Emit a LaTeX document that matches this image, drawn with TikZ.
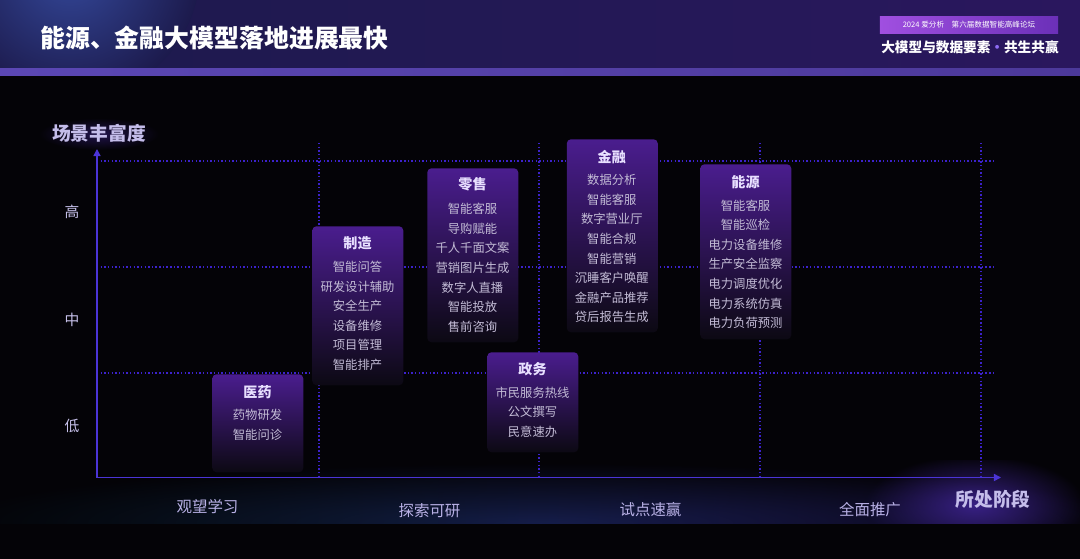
\documentclass[tikz,border=0pt]{standalone}
\usepackage{fontspec}
\setmainfont{Noto Sans CJK SC}
\usetikzlibrary{arrows.meta, fadings}

\definecolor{bgdark}{HTML}{040307}
\definecolor{headleft}{HTML}{1C1A4C}
\definecolor{headright}{HTML}{2A175E}
\definecolor{headglow}{HTML}{34489A}
\definecolor{headline}{HTML}{5B47B4}
\definecolor{axisblue}{HTML}{4B34D6}
\definecolor{griddot}{HTML}{3C22CC}
\definecolor{paneltop}{HTML}{4A1D8E}
\definecolor{panelmid}{HTML}{1F1238}
\definecolor{panelbot}{HTML}{0C0913}
\definecolor{itemgrey}{HTML}{C3BCD6}
\definecolor{titlelav}{HTML}{E8E0FF}
\definecolor{labellav}{HTML}{B9B1E6}
\definecolor{tagleft}{HTML}{A04FE0}
\definecolor{tagright}{HTML}{6B30B8}
\definecolor{dotpurple}{HTML}{8F6CF5}
\definecolor{bandleft}{HTML}{06202C}
\definecolor{bandmid}{HTML}{08204A}
\definecolor{bandright}{HTML}{241A66}
\definecolor{glowpurple}{HTML}{3D2390}

\tikzfading[name=softglow, inner color=transparent!0, outer color=transparent!100]

\begin{document}
\begin{tikzpicture}[
    x=0.025cm, y=-0.025cm,
    panel/.style = {
        rounded corners=3pt,
        top color=paneltop,
        middle color=panelmid,
        bottom color=panelbot,
        minimum width=2.275cm,
        inner sep=0pt,
        anchor=north west
    },
    paneltitle/.style = {
        font=\fontsize{10}{12}\selectfont\bfseries,
        text=titlelav,
        inner sep=0pt
    },
    items/.style = {
        align=center,
        font=\fontsize{8.75}{13.95}\selectfont,
        text=itemgrey,
        inner sep=0pt
    },
    stage/.style = {
        font=\fontsize{11}{13}\selectfont,
        text=labellav,
        inner sep=0pt
    },
    level/.style = {
        font=\fontsize{10.5}{12}\selectfont,
        text=labellav!80!white,
        inner sep=0pt
    },
    axistitle/.style = {
        font=\fontsize{13.3}{15}\selectfont\bfseries,
        text=labellav!85!white,
        inner sep=0pt
    },
    axis/.style = {draw=axisblue, line width=1.1pt, -{Triangle[length=5pt, width=5pt]}},
    gridline/.style = {draw=griddot, line width=0.9pt, dash pattern=on 1pt off 1.6pt}
]

%% -- Fondo y cabecera --------------------------------------------------------

\fill[bgdark] (0,0) rectangle (1080,559);

\begin{scope}
    \clip (0,0) rectangle (1080,68);
    \fill[left color=headleft, right color=headright] (0,0) rectangle (1080,68);
    \shade[inner color=headglow, outer color=headleft] (70,-30) circle[radius=130];
\end{scope}
\fill[left color=headline, right color=headline!70!headright] (0,68) rectangle (1080,75);

\node[anchor=west, font=\fontsize{17.7}{20}\selectfont\bfseries, text=white, inner sep=0pt]
    (title) at (40,38.5) {能源、金融大模型落地进展最快};

\node[left color=tagleft, right color=tagright, minimum width=4.45cm, minimum height=0.4cm,
      inner sep=0pt, font=\fontsize{5.4}{6}\selectfont, text=white]
    (tag) at (969,25) {2024 爱分析\quad 第六届数据智能高峰论坛};
\node[font=\fontsize{9.7}{12}\selectfont\bfseries, text=white, inner sep=0pt]
    (slogan) at (970,47) {大模型与数据要素{\color{dotpurple}•}共生共赢};

%% -- Franja inferior ---------------------------------------------------------

\begin{scope}
    \clip (0,460) rectangle (1080,523);
    \shade[left color=bandleft, middle color=bandmid, right color=bandright, path fading=softglow]
        (540,523) ellipse [x radius=600, y radius=60];
    \fill[glowpurple, path fading=softglow, opacity=0.9] (975,505) ellipse [x radius=110, y radius=50];
\end{scope}

%% -- Rejilla y ejes ----------------------------------------------------------

\foreach \yy in {161, 267, 373}
    \draw[gridline] (97,\yy) -- (993,\yy);
\foreach \xx in {319, 539, 760, 981}
    \draw[gridline] (\xx,143) -- (\xx,477);

\coordinate (origin) at (97,477.5);
\coordinate (ytip)   at (97,149);
\coordinate (xtip)   at (1001,477.5);

\draw[axis] (origin) -- (ytip);
\draw[axis] (origin) -- (xtip);

\fill[glowpurple, path fading=softglow, opacity=0.5] (99,134) ellipse [x radius=60, y radius=16];
\node[axistitle] (ylabel) at (99,133) {场景丰富度};
\node[axistitle] (xlabel) at (993,499) {所处阶段};

\node[level] (high) at (72,212) {高};
\node[level] (mid)  at (72,320) {中};
\node[level] (low)  at (72,426) {低};

\node[stage] (watch)  at (207.5,507) {观望学习};
\node[stage] (probe)  at (429.5,511) {探索可研};
\node[stage] (pilot)  at (650.5,510) {试点速赢};
\node[stage] (rollout) at (870,510) {全面推广};

%% -- Paneles por sector ------------------------------------------------------

\node[panel, minimum height=2.45cm]  (pharma) at (212,374) {};
\node[paneltitle] (pharma-t) at (257.5,392) {医药};
\node[items]      (pharma-i) at (257.5,424.7) {药物研发\\智能问诊};

\node[panel, minimum height=3.975cm] (manuf) at (312,226) {};
\node[paneltitle] (manuf-t) at (357.5,243.3) {制造};
\node[items]      (manuf-i) at (357.5,315.8)
    {智能问答\\研发设计辅助\\安全生产\\设备维修\\项目管理\\智能排产};

\node[panel, minimum height=4.35cm]  (retail) at (427,168) {};
\node[paneltitle] (retail-t) at (472.5,184.5) {零售};
\node[items]      (retail-i) at (472.5,267.8)
    {智能客服\\导购赋能\\千人千面文案\\营销图片生成\\数字人直播\\智能投放\\售前咨询};

\node[panel, minimum height=2.5cm]   (gov) at (487,352) {};
\node[paneltitle] (gov-t) at (532.5,369) {政务};
\node[items]      (gov-i) at (532.5,412.2) {市民服务热线\\公文撰写\\民意速办};

\node[panel, minimum height=4.825cm] (finance) at (566.5,139) {};
\node[paneltitle] (finance-t) at (611.8,157) {金融};
\node[items]      (finance-i) at (611.8,248.7)
    {数据分析\\智能客服\\数字营业厅\\智能合规\\智能营销\\沉睡客户唤醒\\金融产品推荐\\贷后报告生成};

\node[panel, minimum height=4.375cm] (energy) at (700,164) {};
\node[paneltitle] (energy-t) at (745.5,182) {能源};
\node[items]      (energy-i) at (745.5,264.2)
    {智能客服\\智能巡检\\电力设备维修\\生产安全监察\\电力调度优化\\电力系统仿真\\电力负荷预测};

\end{tikzpicture}
\end{document}
